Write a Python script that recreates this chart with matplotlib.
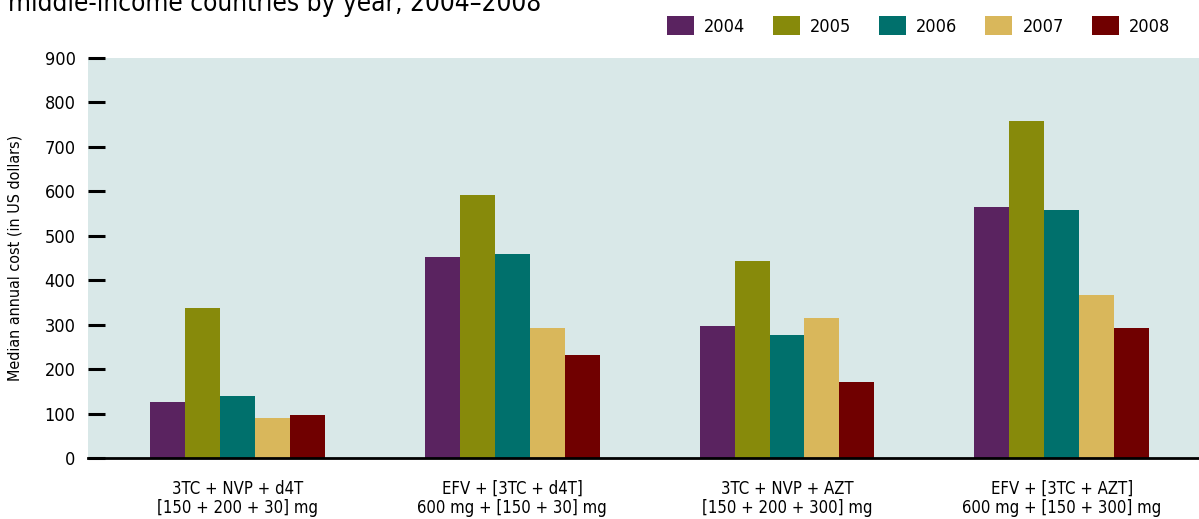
import matplotlib
matplotlib.use("Agg")
import matplotlib.pyplot as plt
import matplotlib.font_manager as fm
import numpy as np
from matplotlib.patches import Patch

# font: narrow sans if we have it, else condensed DejaVu
have = {f.name for f in fm.fontManager.ttflist}
if "Liberation Sans Narrow" in have:
    plt.rcParams["font.family"] = ["Liberation Sans Narrow", "DejaVu Sans"]
else:
    plt.rcParams["font.family"] = ["DejaVu Sans"]
    plt.rcParams["font.stretch"] = "condensed"

regimens = [
    "3TC + NVP + d4T\n[150 + 200 + 30] mg",
    "EFV + [3TC + d4T]\n600 mg + [150 + 30] mg",
    "3TC + NVP + AZT\n[150 + 200 + 300] mg",
    "EFV + [3TC + AZT]\n600 mg + [150 + 300] mg",
]
years = ["2004", "2005", "2006", "2007", "2008"]
cost_2004 = [126, 452, 297, 565]
cost_2005 = [338, 592, 443, 758]
cost_2006 = [140, 459, 277, 558]
cost_2007 = [90, 292, 315, 367]
cost_2008 = [97, 232, 171, 292]
yticks = [0, 100, 200, 300, 400, 500, 600, 700, 800, 900]

COLORS = ["#5a2360", "#878a0b", "#00706c", "#d9b75b", "#700000"]
BG = "#d9e8e8"

fig = plt.figure(figsize=(11.99, 5.19), dpi=100)
ax = fig.add_axes([88 / 1199, 1 - 458 / 519, 1 - 88 / 1199, 400 / 519])
ax.set_facecolor(BG)

x = np.arange(len(regimens))
w = 0.127
series = [cost_2004, cost_2005, cost_2006, cost_2007, cost_2008]
for i, (vals, col) in enumerate(zip(series, COLORS)):
    ax.bar(x + (i - 2) * w, vals, width=w, color=col, linewidth=0, label=years[i], zorder=2)

ax.set_xlim(-0.545, 3.5)
ax.set_ylim(0, 900)
ax.set_yticks(yticks)
ax.set_xticks(x)
ax.set_xticklabels(regimens, fontsize=12, linespacing=1.05)
ax.tick_params(axis="x", length=0, pad=16)
ax.tick_params(axis="y", direction="in", length=12, width=2.2, labelsize=13, pad=9)

for s in ["top", "right", "left"]:
    ax.spines[s].set_visible(False)
ax.spines["bottom"].set_linewidth(2)
ax.spines["bottom"].set_zorder(3)

ax.set_ylabel("Median annual cost (in US dollars)", fontsize=11.5, labelpad=16)

handles = [Patch(facecolor=c, edgecolor="none") for c in COLORS]
fig.legend(handles, years, loc="center right", bbox_to_anchor=(1170 / 1199, 1 - 26 / 519),
           ncol=5, frameon=False, fontsize=13, handlelength=1.5, handleheight=1.17,
           handletextpad=0.55, columnspacing=1.55, borderaxespad=0, borderpad=0)

fig.text(8 / 1199, 1 - 11 / 519, "middle-income countries by year, 2004\u20132008",
         fontsize=18.8, va="baseline", ha="left")

fig.savefig("out.png", dpi=100)
